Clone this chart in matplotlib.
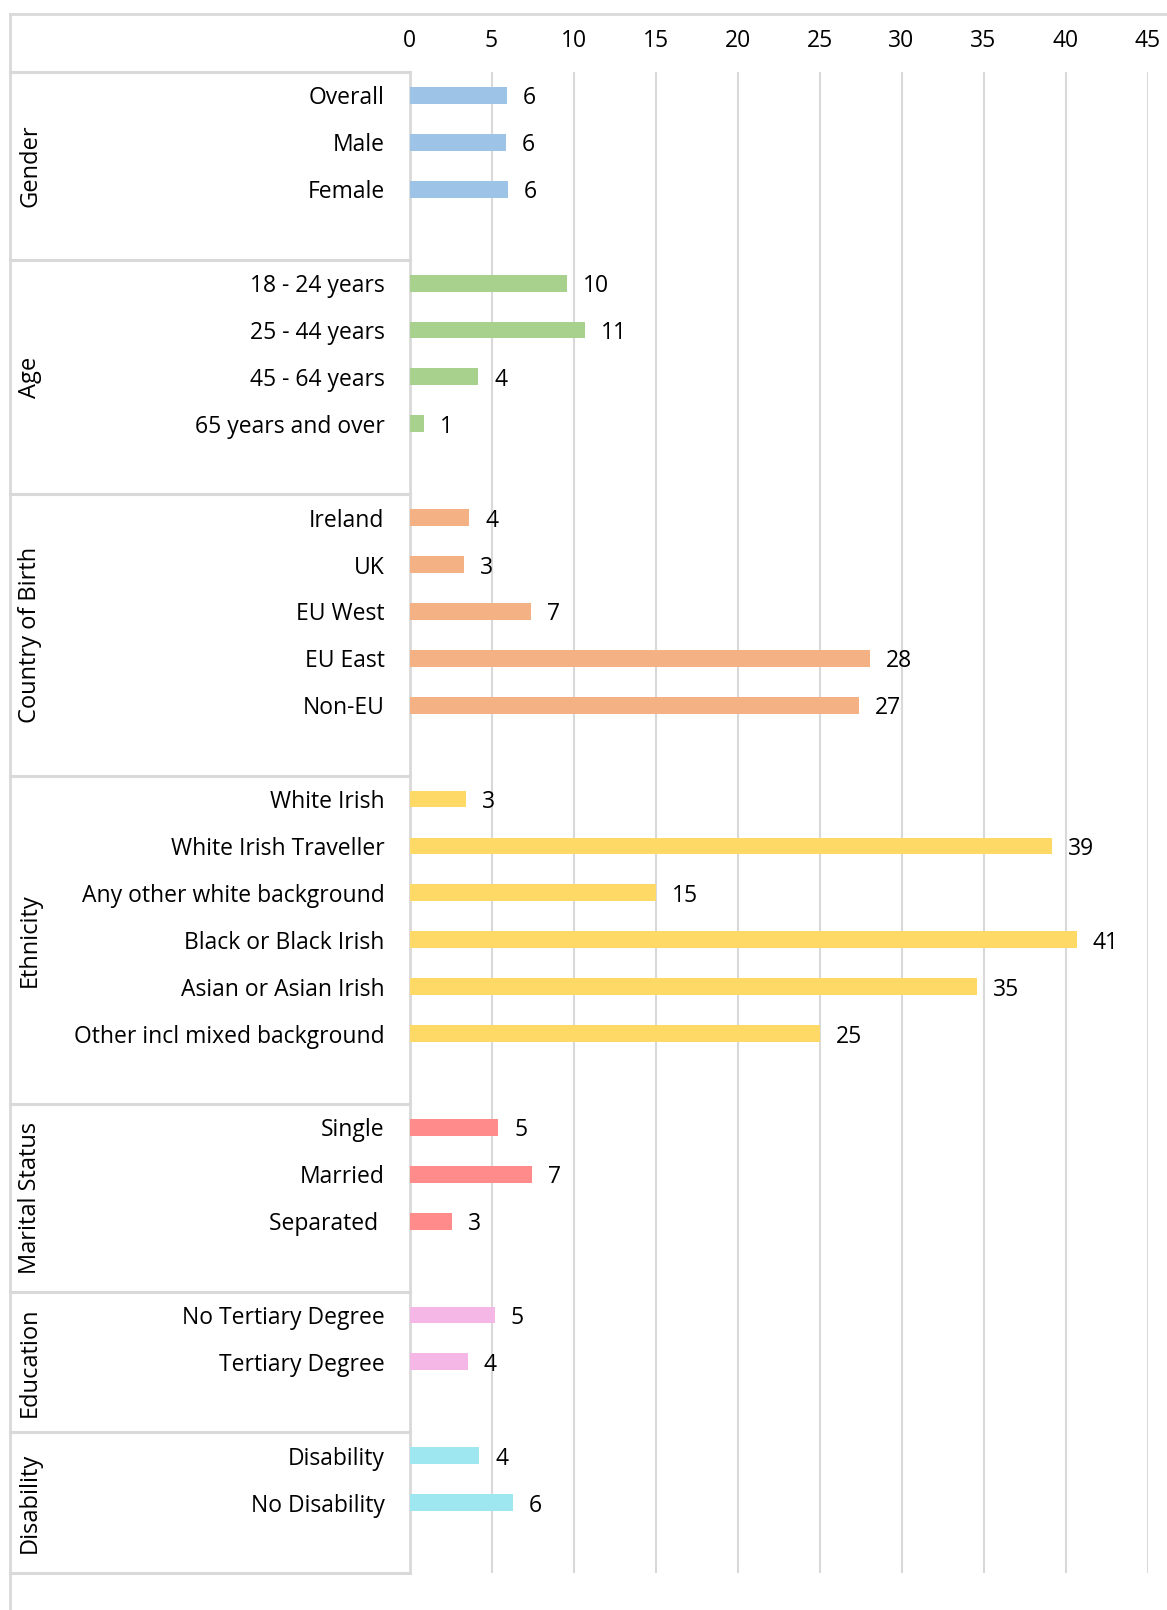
import matplotlib
matplotlib.use("Agg")
import matplotlib.pyplot as plt
import matplotlib.transforms as mtransforms
from matplotlib.lines import Line2D

# ---------------- data ----------------
groups = ["Gender", "Age", "Country of Birth", "Ethnicity",
          "Marital Status", "Education", "Disability"]

gender_labels = ["Overall", "Male", "Female"]
gender_values = [5.95, 5.9, 6.0]

age_labels = ["18 - 24 years", "25 - 44 years", "45 - 64 years", "65 years and over"]
age_values = [9.6, 10.7, 4.2, 0.9]

country_labels = ["Ireland", "UK", "EU West", "EU East", "Non-EU"]
country_values = [3.65, 3.3, 7.4, 28.1, 27.4]

ethnicity_labels = ["White Irish", "White Irish Traveller", "Any other white background",
                    "Black or Black Irish", "Asian or Asian Irish",
                    "Other incl mixed background"]
ethnicity_values = [3.45, 39.2, 15.0, 40.7, 34.6, 25.0]

marital_labels = ["Single", "Married", "Separated "]
marital_values = [5.4, 7.45, 2.6]

education_labels = ["No Tertiary Degree", "Tertiary Degree"]
education_values = [5.2, 3.55]

disability_labels = ["Disability", "No Disability"]
disability_values = [4.25, 6.3]

group_colors = ["#9DC3E6", "#A9D18E", "#F4B183", "#FFD966",
                "#FF8B8B", "#F5B8E6", "#9EE7F0"]

x_ticks = [0, 5, 10, 15, 20, 25, 30, 35, 40, 45]

all_labels = [gender_labels, age_labels, country_labels, ethnicity_labels,
              marital_labels, education_labels, disability_labels]
all_values = [gender_values, age_values, country_values, ethnicity_values,
              marital_values, education_values, disability_values]

# ---------------- figure ----------------
plt.rcParams['font.family'] = ['Open Sans', 'DejaVu Sans']
W, H = 1167, 1610
fig = plt.figure(figsize=(W / 100, H / 100), dpi=100)
fig.patch.set_facecolor("white")

ax_left, ax_right = 409.5, 1147.5
ax_top, ax_bottom = 72, 1573
ax = fig.add_axes([ax_left / W, 1 - ax_bottom / H,
                   (ax_right - ax_left) / W, (ax_bottom - ax_top) / H])

grid_c = "#D9D9D9"
FS = 16.5

# rows: items of each group followed by one blank row
row = 0
tick_pos, tick_lab = [], []
group_bounds = []
for g, labs, vals, col in zip(groups, all_labels, all_values, group_colors):
    start = row
    ys = list(range(row, row + len(labs)))
    ax.barh(ys, vals, height=0.36, color=col, zorder=3)
    for y, v in zip(ys, vals):
        ax.annotate(f"{v:.0f}", xy=(v, y), xytext=(11.5, 0), textcoords="offset points",
                    ha="left", va="center_baseline", fontsize=FS, color="#000000")
    tick_pos += ys
    tick_lab += labs
    row += len(labs) + 1
    group_bounds.append((start, row))

n_rows = row
ax.set_ylim(n_rows - 0.5, -0.5)
ax.set_xlim(0, 45)
ax.set_yticks(tick_pos)
ax.set_yticklabels(tick_lab, fontsize=FS)
ax.set_xticks(x_ticks)
ax.set_xticklabels([str(t) for t in x_ticks], fontsize=FS)
ax.xaxis.tick_top()
ax.tick_params(axis="x", length=0, pad=14)
ax.tick_params(axis="y", length=0, pad=18)
ax.grid(axis="x", color=grid_c, linewidth=1.5, zorder=0)
ax.set_axisbelow(True)
for s in ["top", "right", "bottom"]:
    ax.spines[s].set_visible(False)
ax.spines["left"].set_color(grid_c)
ax.spines["left"].set_linewidth(2)

# ---------------- table lines ----------------
trans = mtransforms.blended_transform_factory(fig.transFigure, ax.transData)
x0 = 10 / W
x1 = ax_left / W
bounds = [-0.5] + [b[1] - 0.5 for b in group_bounds]
for yb in bounds:
    fig.add_artist(Line2D([x0, x1], [yb, yb], transform=trans, color=grid_c,
                          linewidth=2.2))

# outer border (top and left)
ytop = 1 - 14 / H
fig.add_artist(Line2D([x0, 1], [ytop, ytop], transform=fig.transFigure,
                      color=grid_c, linewidth=2))
fig.add_artist(Line2D([x0, x0], [0, ytop], transform=fig.transFigure,
                      color=grid_c, linewidth=2))

# group labels
for g, (s, e) in zip(groups, group_bounds):
    yc = (s - 0.5 + e - 0.5) / 2
    fig.text(30 / W, yc, g, transform=trans, rotation=90, ha="center", va="center",
             fontsize=17, color="#000000")

fig.savefig("out.png", dpi=100, facecolor="white")
